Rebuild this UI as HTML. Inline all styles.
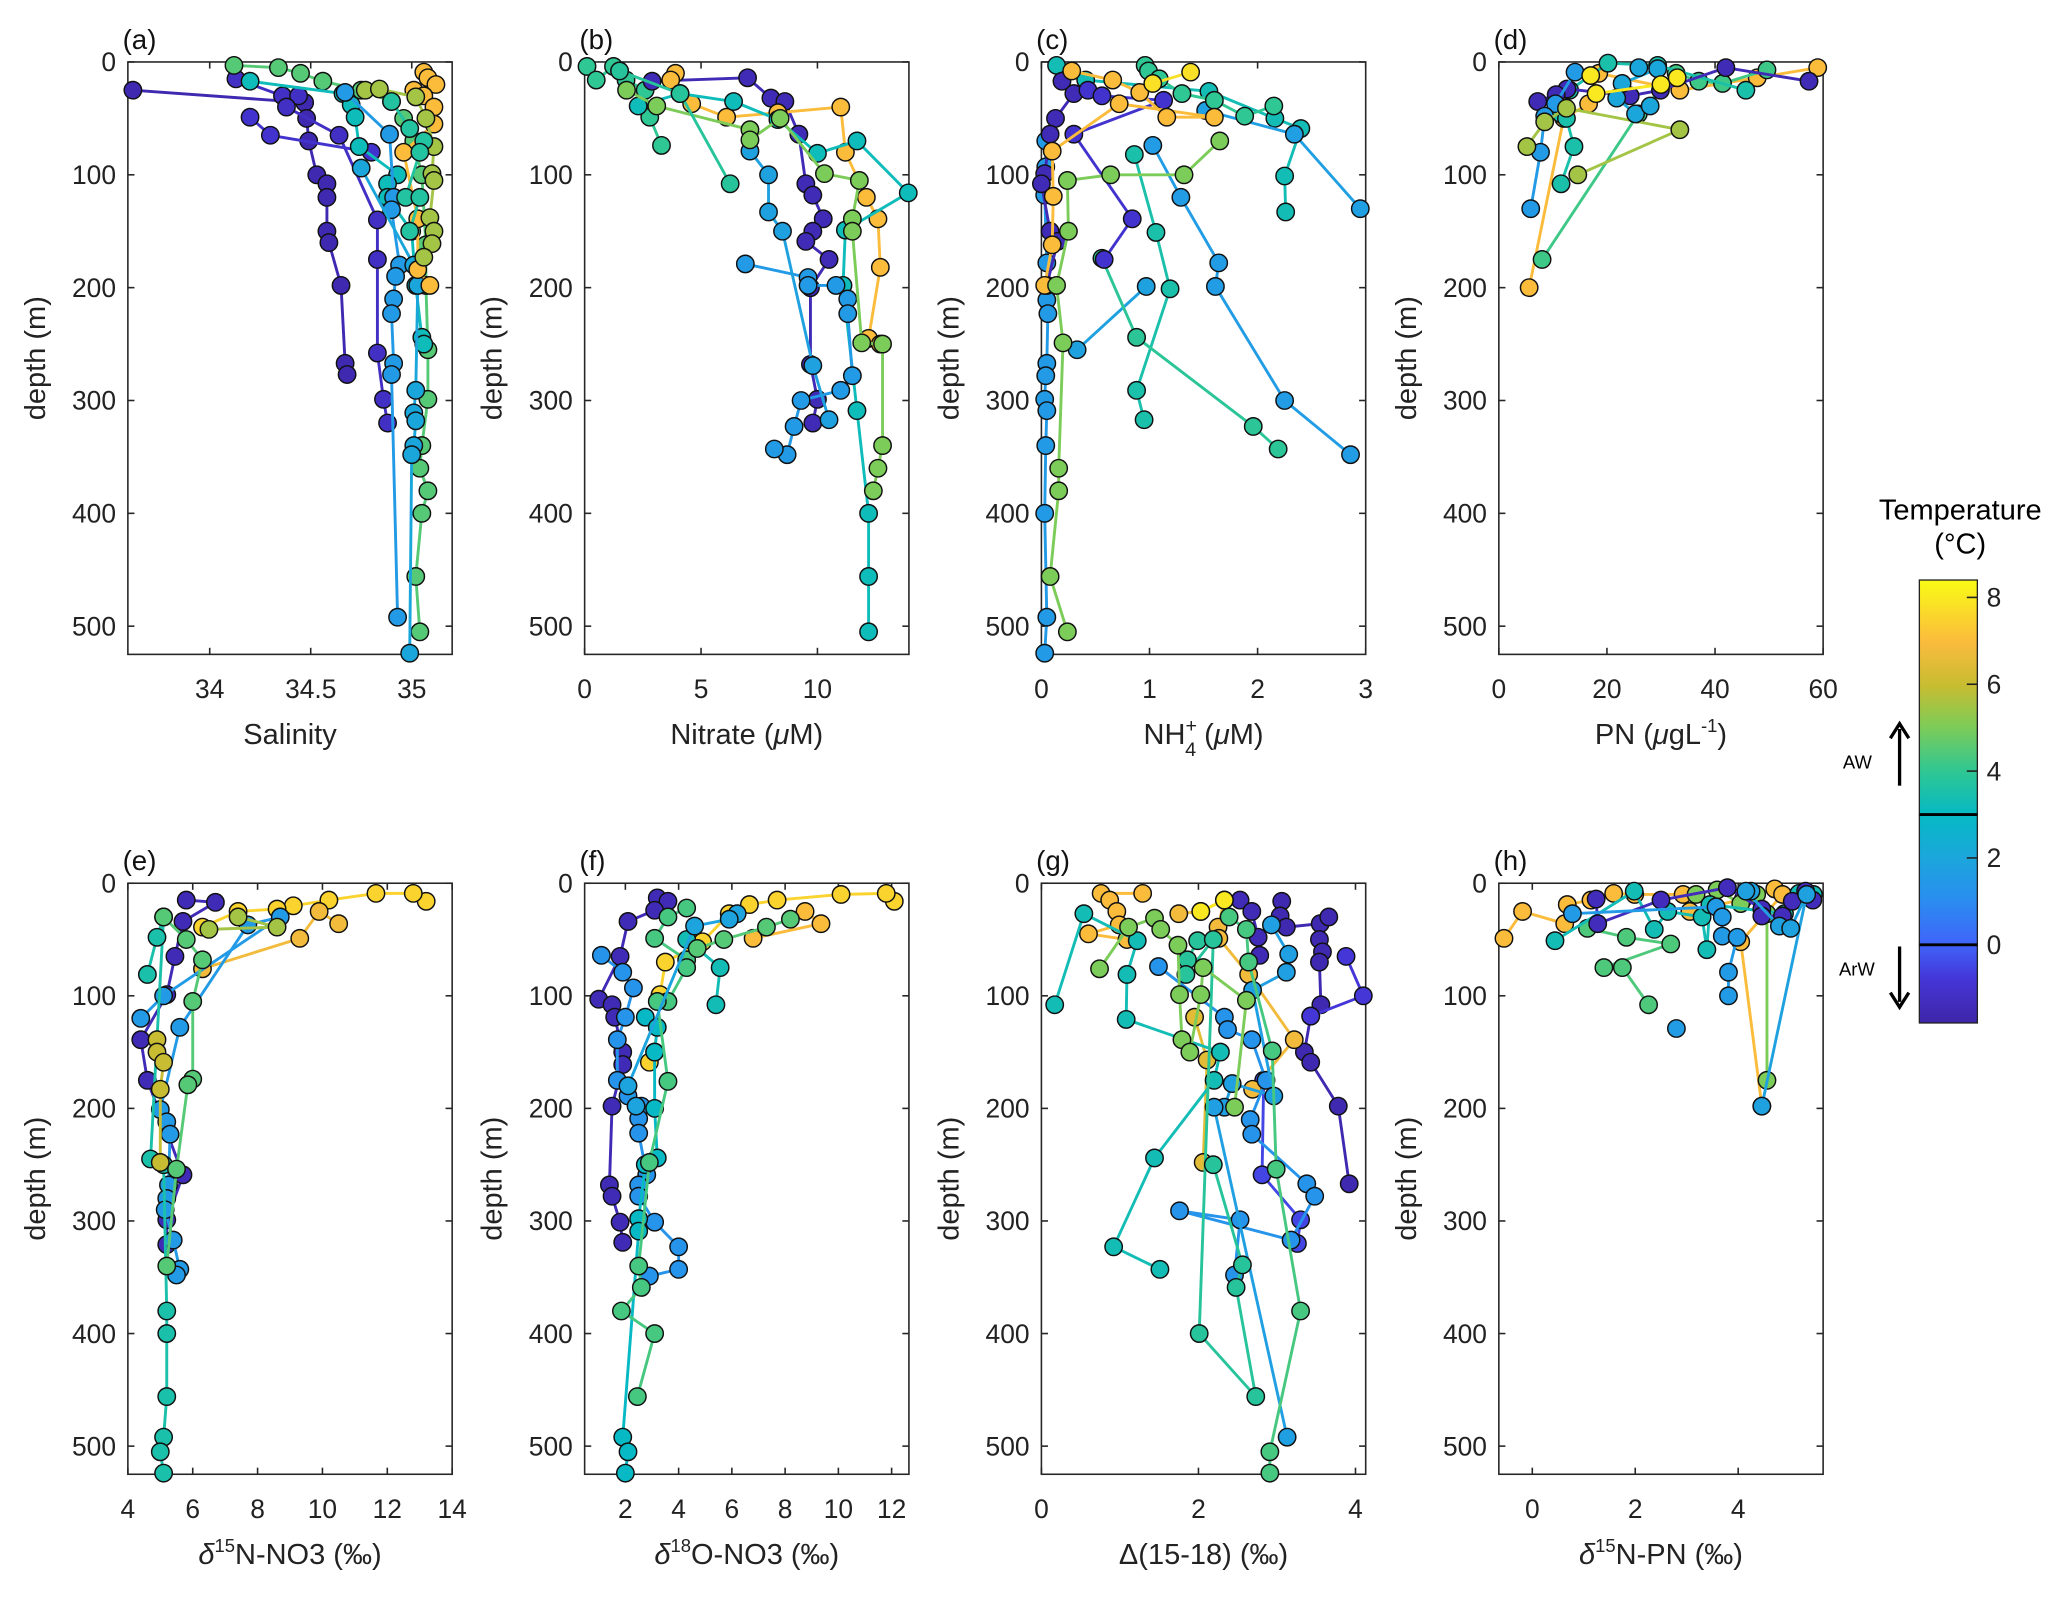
<!DOCTYPE html>
<html><head><meta charset="utf-8"><title>Depth profiles</title>
<style>
html,body{margin:0;padding:0;background:#fff;}
svg{display:block;font-family:"Liberation Sans",Arial,sans-serif;}
</style></head>
<body>
<svg id="fig" xmlns="http://www.w3.org/2000/svg" width="2067" height="1603" viewBox="0 0 1568 1216">
<defs>
<linearGradient id="parula" x1="0" y1="1" x2="0" y2="0">
<stop offset="0" stop-color="#3e26a8"/><stop offset="0.1" stop-color="#4536d8"/><stop offset="0.18" stop-color="#3f65fa"/>
<stop offset="0.28" stop-color="#2a8ef0"/><stop offset="0.37" stop-color="#1ca6dc"/><stop offset="0.47" stop-color="#06b9c4"/>
<stop offset="0.57" stop-color="#30c792"/><stop offset="0.67" stop-color="#7fcc57"/><stop offset="0.76" stop-color="#c6bd31"/>
<stop offset="0.86" stop-color="#fbbb3d"/><stop offset="1" stop-color="#f9fb15"/>
</linearGradient>
</defs>
<g id="panels"></g>
<g id="colorbar">
<text x="1487" y="394" font-size="22" text-anchor="middle">Temperature</text>
<text x="1487" y="420" font-size="22" text-anchor="middle">(°C)</text>
<rect x="1456" y="440" width="44" height="336" fill="url(#parula)" stroke="#222" stroke-width="1"/>
<text x="1398" y="583" font-size="14">AW</text>
<line x1="1441" y1="596" x2="1441" y2="553" stroke="#000" stroke-width="2.5"/>
<path d="M1434,560 L1441,549 L1448,560" fill="none" stroke="#000" stroke-width="2.5"/>
<text x="1395" y="740" font-size="14">ArW</text>
<line x1="1441" y1="718" x2="1441" y2="760" stroke="#000" stroke-width="2.5"/>
<path d="M1434,753 L1441,764 L1448,753" fill="none" stroke="#000" stroke-width="2.5"/>
</g>
</svg>
<script>
// ---------- data: each panel = list of station series ----------
const aVal=[[33.62,34.47,34.48,34.49,34.53,34.58,34.58,34.58,34.59,34.65,34.67,34.68],[34.13,34.36,34.44,34.38,34.64,34.83,34.83,34.83,34.86,34.88],[34.2,34.3,34.8],[34.12,34.34,34.45,34.56,34.75,34.9,34.96,35.01,35.05,35.07,35.07,35.08,35.08,35.05,35.04,35.08,35.05,35.02,35.04],[34.2,34.66,34.7,34.72,34.74,34.93,34.88,34.88,35.0,35.02,35.05,35.06],[34.67,34.89,34.91,34.9,34.94,34.92,34.91,34.9,34.91,34.9,34.93],[34.75,35.01,35.03,35.02,35.01,35.02,35.01,35.0,34.99],[35.06,35.08,35.12,35.01,35.06,35.11,35.11,34.96,35.03,35.03,35.09],[34.77,34.84,35.02,35.07,35.11,35.1,35.11,35.09,35.11,35.1,35.06],[34.9,34.99,35.06,35.04,34.97,35.04,34.99]];
const aDepth=[[25,36,50,70,100,108,120,150,160,198,267,277],[15,30,30,40,65,140,175,258,299,320],[49,65,80],[3,5,10,17,25,35,50,70,100,162,198,255,299,340,360,380,400,456,505],[17,28,38,49,75,100,108,120,150,198,244,250],[27,64,120,131,180,190,210,223,267,277,492],[94,180,198,291,311,318,340,348,524],[9,14,20,25,30,40,55,80,139,184,198],[25,24,31,50,75,99,105,138,150,161,173],[35,59,70,80,120,120,150]];
const aTemp=[-1.6,-1.2,-1.0,4.5,3.2,1.5,2.0,7.0,5.5,3.7];

const bVal=[[0.1,0.5,1.24,1.5,1.78,2.6,2.8,3.3],[2.9,7.0,8.0,8.6,9.2,9.5,9.8,10.25,9.8,9.5,10.5,9.7,9.7,10.0,9.8],[3.9,3.7,4.6,6.1,8.3,11.0,11.2,12.1,12.6,12.7,12.2,12.7],[2.3,4.1,6.4,8.3,10.0,11.7,13.9,11.2,11.1,11.7,12.2,12.2,12.2],[6.9,9.6,9.6,10.8,11.3,11.3,11.5,11.0,9.3,9.0,8.7,8.15],[7.1,7.9,7.9,8.5,9.8,10.5],[1.8,3.1,7.1,7.1,8.4,10.3,11.8,11.5,11.5,11.9,12.8,12.8,12.6,12.4],[1.5,4.1,6.25]];
const bDepth=[[4,16,4,8,16,25,49,74],[17,14,32,35,64,108,118,139,150,159,175,200,268,299,320],[10,16,37,49,45,40,80,120,139,182,245,250],[39,28,35,51,81,70,116,149,198,309,400,456,505],[179,191,198,198,210,223,278,291,300,323,348,343],[79,100,133,150,269,317],[25,39,60,69,50,99,105,139,150,249,250,340,360,380],[8,28,108]];
const bTemp=[4.0,-1.5,7.0,3.2,1.5,1.8,5.0,3.8];

const cVal=[[0.04,0.04,0.03,0.05,0.05,0.05,0.06,0.05,0.04,0.03,0.05,0.04,0.03,0.05,0.03],[0.14,0.41,1.55,2.16,2.4,2.25,2.26],[1.52,2.34,2.95],[0.96,0.99,1.09,1.3,1.6,1.88,2.15],[1.03,1.29,1.64,1.61,2.25,2.86],[0.97,0.33],[0.86,1.06,1.19,0.88,0.95],[0.56,0.88,1.96,2.19],[0.19,0.3,0.13,0.08,0.03,0.0,0.08,0.15,0.05],[0.43,0.56,1.13,0.3,0.84,0.58],[0.28,0.66,0.91,1.16,1.6,0.72,0.1,0.11,0.1,0.03],[1.65,1.32,0.64,0.24,0.25,0.14,0.2,0.16,0.16,0.08,0.24],[1.38,1.03]];
const cDepth=[[70,93,118,178,198,211,223,267,278,299,309,340,400,492,524],[3,16,26,50,59,101,133],[43,64,130],[3,8,15,28,34,48,39],[74,120,178,199,300,348],[199,255],[82,151,201,291,317],[174,244,323,343],[17,28,50,64,99,108,150,159,198],[25,30,34,64,139,175],[8,16,27,49,49,37,79,119,162,198],[70,100,100,105,150,198,249,360,380,456,505],[9,19]];
const cTemp=[1.5,3.3,1.7,4.0,1.6,1.8,3.5,3.9,-1.5,-1.0,7.0,5.0,7.8];

const dVal=[[59,47.8,33.5,18.5,16.6,12,5.6],[49.6,41.4,37,32.8,25.8,8],[45.7,29.4,20.2,13.1,11.5,12.5,13.9,11.5],[57.4,42,29.9,24.3,12.6,10.6,7.2],[14.1,10.5,8.5,7.7,5.9],[5.2,8.5,12.5,33.5,14.6],[25.9,29.4,22.8,21.8,25.3,28],[17,18,30,33]];
const dDepth=[[5,14,25,10,37,50,200],[7,19,17,10,46,175],[25,3,1,25,46,50,75,108],[17,5,25,30,24,29,35],[9,37,48,80,130],[75,53,41,60,100],[5,6,19,32,46,39],[12,28,20,14]];
const dTemp=[7.0,4.2,3.5,-1.5,1.5,5.5,2.0,8.0];

const eVal=[[13.2,12.8,11.65,10.2,9.1,8.6,7.4,6.3],[10.5,9.9,9.3,6.3],[5.8,6.7,5.7,5.45,5.2,4.4,4.6,5.7,5.2,5.2],[4.4,5.1,8.7,7.7,5.6,5.0,5.2,5.3,5.25,5.2,5.15,5.4,5.6,5.5],[4.6,4.9,5.1,4.7,5.1,5.2,5.2,5.2,5.1,5.0,5.1],[5.1,5.8,6.3,6.0,6.0,5.85,5.5,5.2],[7.4,8.6,6.5],[4.9,4.9,5.1,5.0,5.0]];
const eDepth=[[16,9,9,15,20,23,25,39],[36,25,49,76],[15,17,34,65,99,139,175,259,299,321],[120,100,30,37,128,201,212,223,268,280,290,317,343,348],[81,48,30,245,250,380,400,456,492,505,524],[30,50,68,105,174,179,254,340],[30,39,41],[139,150,159,183,248]];
const eTemp=[7.5,6.8,-1.5,1.5,3.5,4.5,5.5,6.0];

const fVal=[[12.1,11.8,10.1,7.7,6.66,5.9,4.9,3.5,3.3,3.1,2.9],[8.75,9.35,6.8],[3.2,3.6,3.1,2.1,1.8,1.0,1.5,1.6,1.9,1.9,1.5,1.4,1.5,1.8,1.9],[1.1,1.9,2.3,2.0,1.7,1.7,2.1,2.6,2.5,2.5,2.8,2.5,2.5,3.1,4.0,4.0,2.9],[4.3,5.56,5.4],[2.75,3.2,3.1,3.1,3.2,2.75,2.5,2.5,1.9,2.1,2.0],[4.3,3.6,3.1,4.3,4.3,3.6,3.2,3.6,2.9,2.5,2.6,1.85,3.1,2.45],[8.2,7.3,5.7,4.7],[6.2,5.9,4.6,2.1,2.4]];
const fDepth=[[16,9,10,15,19,27,52,70,99,150,159],[25,36,49],[13,16,24,34,65,103,108,119,150,161,198,268,278,301,319],[64,79,93,119,139,175,189,198,209,222,259,268,278,301,323,343,349],[50,75,108],[119,128,150,200,244,250,298,309,492,505,524],[22,30,49,68,75,105,105,176,248,340,359,380,400,456],[32,39,50,58],[27,32,38,180,198]];
const fTemp=[7.5,7.0,-1.5,1.3,3.3,3.0,4.3,4.5,1.9];

const gVal=[[2.53,2.68,2.76,2.78],[3.06,3.04,3.12,3.55,3.66,3.54,3.58,3.54,3.56,3.43,3.35,3.43,3.78,3.92],[3.88,4.1,3.43],[2.83,2.81,3.3,3.26],[1.29,0.76,0.87,0.96,0.99,0.6,1.09],[1.75,2.03,2.33,2.25,2.26,2.64,3.22,2.69],[1.95,2.11,2.06],[0.17,0.54,1.22,1.09,1.08,2.28,2.2,1.44,0.92,1.51],[1.49,2.33,2.37,2.68,2.86,2.66,2.68,3.38,3.48,3.18,1.76,2.53,2.46],[2.93,3.15,3.12,2.69,2.96,2.43,2.33,2.2,3.13],[2.39,2.61,2.64,2.94,2.99,3.3,2.91,2.91],[1.99,1.86,1.84,2.19,2.01,2.73,2.48,2.56,2.19],[0.74,1.11,1.44,1.52,1.74,1.76,1.79,1.89,2.03,2.06,2.61,2.46],[2.03,2.33]];
const gDepth=[[15,25,48,64],[16,29,39,36,30,50,61,70,108,118,150,159,198,267],[65,100,118],[175,259,299,320],[9,9,15,25,37,45,50],[27,25,15,39,49,81,139,183],[119,157,248],[108,27,51,81,121,150,175,244,323,343],[74,119,130,139,175,210,223,267,278,317,291,299,348],[37,63,79,95,189,178,199,199,492],[30,41,70,149,254,380,505,524],[51,68,81,50,400,456,359,339,250],[76,39,31,41,55,99,139,150,99,75,104,199],[25,15]];
const gTemp=[-1.5,-1.6,-0.8,-0.5,7.0,6.8,6.5,3.3,1.3,1.7,4.3,3.8,5.0,8.0];

const hVal=[[-0.55,-0.19,0.63,0.68,1.14,1.58,1.99,2.93,3.06,4.1,4.71,4.86,4.05,4.46],[1.07,1.83,2.69,1.39,1.75,2.26],[3.18,3.59,4.05,4.36,4.56,4.56],[0.44,1.98,2.37,2.63,3.3,3.39,3.45,4.9,5.18,5.46],[1.24,1.27,2.5,3.79,4.46,4.46,4.86,5.05,5.31,5.45],[0.78,3.57,3.69,3.69,3.98,3.81,3.81],[2.8],[4.25,4.15,4.8,5.02,5.33,4.46]];
const hDepth=[[49,25,36,19,15,9,10,10,25,14,5,10,52,198],[40,48,54,75,75,108],[10,6,18,10,27,175],[51,7,41,25,30,59,19,27,9,10],[14,36,15,4,23,29,29,16,7,15],[27,21,30,47,48,79,100],[129],[7,7,38,40,10,198]];
const hTemp=[7.0,4.4,5.0,3.3,-1.4,1.5,1.6,1.8];

// tick values
const yTicks=[0,100,200,300,400,500];
const aTicks=[34,34.5,35], bTicks=[0,5,10], cTicks=[0,1,2,3], dTicks=[0,20,40,60];
const eTicks=[4,6,8,10,12,14], fTicks=[2,4,6,8,10,12], gTicks=[0,2,4], hTicks=[0,2,4];
const cbTicks=[0,2,4,6,8];

// ---------- rendering ----------
const NS="http://www.w3.org/2000/svg";
const root=document.getElementById('panels');
function mk(tag,attrs,parent){const e=document.createElementNS(NS,tag);for(const k in attrs)e.setAttribute(k,attrs[k]);(parent||root).appendChild(e);return e;}
const stops=[[0,[62,38,168]],[0.1,[69,54,216]],[0.18,[63,101,250]],[0.28,[42,142,240]],[0.37,[28,166,220]],[0.47,[6,185,196]],[0.57,[48,199,146]],[0.67,[127,204,87]],[0.76,[198,189,49]],[0.86,[251,187,61]],[1,[249,251,21]]];
const TMIN=-1.8,TMAX=8.4;
function parula(t){let u=(t-TMIN)/(TMAX-TMIN);u=Math.max(0,Math.min(1,u));
 for(let i=1;i<stops.length;i++){if(u<=stops[i][0]){const a=stops[i-1],b=stops[i];const f=(u-a[0])/(b[0]-a[0]);
  return 'rgb('+a[1].map((v,k)=>Math.round(v+(b[1][k]-v)*f)).join(',')+')';}}return 'rgb(249,251,21)';}

const PW=246, lefts=[97,443.5,790,1137];
const panels=[
 {id:'a',row:0,col:0,dom:[33.595,35.2],ticks:aTicks,lbl:['34','34.5','35'],val:aVal,dep:aDepth,tmp:aTemp,xl:'salinity'},
 {id:'b',row:0,col:1,dom:[0,13.93],ticks:bTicks,val:bVal,dep:bDepth,tmp:bTemp,xl:'nitrate'},
 {id:'c',row:0,col:2,dom:[0,3],ticks:cTicks,val:cVal,dep:cDepth,tmp:cTemp,xl:'nh4'},
 {id:'d',row:0,col:3,dom:[0,60],ticks:dTicks,val:dVal,dep:dDepth,tmp:dTemp,xl:'pn'},
 {id:'e',row:1,col:0,dom:[4,14],ticks:eTicks,val:eVal,dep:eDepth,tmp:eTemp,xl:'d15nno3'},
 {id:'f',row:1,col:1,dom:[0.47,12.65],ticks:fTicks,val:fVal,dep:fDepth,tmp:fTemp,xl:'d18ono3'},
 {id:'g',row:1,col:2,dom:[0,4.13],ticks:gTicks,val:gVal,dep:gDepth,tmp:gTemp,xl:'delta'},
 {id:'h',row:1,col:3,dom:[-0.65,5.65],ticks:hTicks,val:hVal,dep:hDepth,tmp:hTemp,xl:'d15npn'}
];
const labelHTML={
 salinity:'Salinity',
 nitrate:'Nitrate (<tspan font-style="italic">μ</tspan>M)',
 nh4:'NH<tspan font-size="15" dy="-9">+</tspan><tspan font-size="15" dx="-9" dy="18">4</tspan><tspan dy="-9"> (</tspan><tspan font-style="italic">μ</tspan>M)',
 pn:'PN (<tspan font-style="italic">μ</tspan>gL<tspan font-size="14" dy="-9">-1</tspan><tspan dy="9">)</tspan>',
 d15nno3:'<tspan font-style="italic">δ</tspan><tspan font-size="14" dy="-9">15</tspan><tspan dy="9">N-NO3 (‰)</tspan>',
 d18ono3:'<tspan font-style="italic">δ</tspan><tspan font-size="14" dy="-9">18</tspan><tspan dy="9">O-NO3 (‰)</tspan>',
 delta:'Δ(15-18) (‰)',
 d15npn:'<tspan font-style="italic">δ</tspan><tspan font-size="14" dy="-9">15</tspan><tspan dy="9">N-PN (‰)</tspan>'
};

panels.forEach(p=>{
 const x0=lefts[p.col], x1=x0+PW;
 const y0=p.row===0?47:670, yscale=p.row===0?0.856:0.854, y1=y0+525*yscale;
 const X=v=>x0+(v-p.dom[0])/(p.dom[1]-p.dom[0])*PW;
 const Y=d=>y0+d*yscale;
 const g=mk('g',{});
 
 
 const box=mk('rect',{x:x0,y:y0,width:PW,height:y1-y0,fill:'none',stroke:'#262626','stroke-width':1.2},g);
 
 
 // y ticks
 yTicks.forEach(t=>{const y=Y(t);
  mk('line',{x1:x0,y1:y,x2:x0+5,y2:y,stroke:'#262626','stroke-width':1.2},g);
  mk('line',{x1:x1,y1:y,x2:x1-5,y2:y,stroke:'#262626','stroke-width':1.2},g);
  const tl=mk('text',{x:x0-9,y:y+7,'font-size':20,'text-anchor':'end',fill:'#222'},g);tl.textContent=t;
  
  
 });
 // x ticks
 p.ticks.forEach((t,i)=>{const x=X(t);
  mk('line',{x1:x,y1:y1,x2:x,y2:y1-5,stroke:'#262626','stroke-width':1.2},g);
  mk('line',{x1:x,y1:y0,x2:x,y2:y0+5,stroke:'#262626','stroke-width':1.2},g);
  const tl=mk('text',{x:x,y:y1+33,'font-size':20,'text-anchor':'middle',fill:'#222'},g);tl.textContent=p.lbl?p.lbl[i]:t;
  
  
 });
 // labels
 const yl=mk('text',{x:0,y:0,'font-size':22,'text-anchor':'middle',fill:'#222',transform:'translate('+(x0-63)+','+((y0+y1)/2)+') rotate(-90)'},g);
 yl.textContent='depth (m)';
 
 
 const xl=mk('text',{x:(x0+x1)/2,y:y1+68,'font-size':22,'text-anchor':'middle',fill:'#222'},g);
 xl.innerHTML=labelHTML[p.xl];
 
 
 const pl=mk('text',{x:x0-4,y:y0-10,'font-size':21,fill:'#111'},g);pl.textContent='('+p.id+')';
 
 
 // series
 p.val.forEach((vals,si)=>{
  const deps=p.dep[si], col=parula(p.tmp[si]);
  const sg=mk('g',{},g);
  
  
  if(vals.length>1){
   const pts=vals.map((v,i)=>X(v).toFixed(1)+','+Y(deps[i]).toFixed(1)).join(' ');
   const pl2=mk('polyline',{points:pts,fill:'none',stroke:col,'stroke-width':2.2,'stroke-linejoin':'round'},sg);
   
   
  }
  vals.forEach((v,i)=>{
   const c=mk('circle',{cx:X(v).toFixed(1),cy:Y(deps[i]).toFixed(1),r:6.6,fill:col,stroke:'#111','stroke-width':1.1},sg);
   
   
  });
 });
});

// colorbar ticks
const cb=document.getElementById('colorbar');
const cbY=t=>776-(t-TMIN)/(TMAX-TMIN)*336;
cbTicks.forEach(t=>{const y=cbY(t);
 mk('line',{x1:1500,y1:y,x2:1492,y2:y,stroke:'#222','stroke-width':1.2},cb);
 const tl=mk('text',{x:1507,y:y+7,'font-size':20,fill:'#222'},cb);tl.textContent=t;
 
 
});
[3,0].forEach(t=>{const l=mk('line',{x1:1456,y1:cbY(t),x2:1500,y2:cbY(t),stroke:'#000','stroke-width':2.2},cb);
 
 
});
</script>
</body></html>
